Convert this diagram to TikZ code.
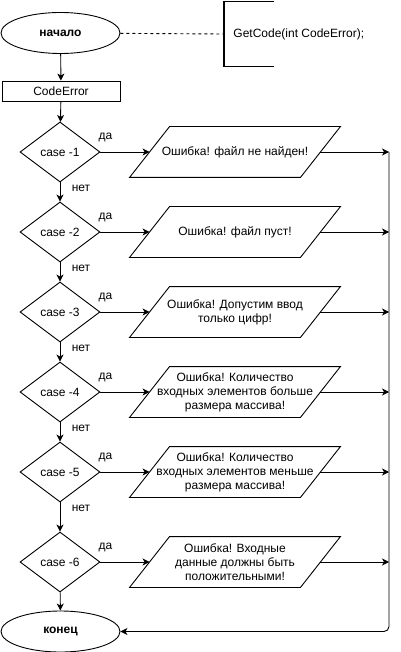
\documentclass[tikz,border=0pt]{standalone}
\usepackage{fontspec}
\setmainfont{Liberation Sans}
\usetikzlibrary{shapes.geometric,arrows.meta,positioning}

\begin{document}
\begin{tikzpicture}[x=1pt,y=-1pt,
		font=\fontsize{12pt}{14pt}\selectfont, line width=0.9pt,
		term/.style={ellipse, draw, minimum width=119pt, minimum height=41pt, inner sep=0pt,
					font=\fontsize{12pt}{14pt}\selectfont\bfseries},
		proc/.style={rectangle, draw, minimum width=118pt, minimum height=20pt, inner sep=0pt},
		cond/.style={diamond, draw, minimum width=80pt, minimum height=60pt, inner sep=0pt},
		io/.style={rectangle, minimum width=170pt, minimum height=50pt, inner sep=0pt, align=center},
		arr/.style={-{Stealth[length=7pt,width=7pt,inset=2pt]}}]
		\useasboundingbox (0,0) rectangle (400,652);

		% start and comment
		\node[term] (start) at (60.5,33) {начало};
		\node[anchor=west, minimum height=64pt, inner xsep=9pt, inner ysep=0pt] (note) at (224,34) {GetCode(int CodeError);};
		\draw[line width=1.6pt] ([xshift=50pt]note.north west) -- (note.north west) -- (note.south west) -- ([xshift=50pt]note.south west);
		\draw[dash pattern=on 3pt off 3pt] (start) -- (note.west);

		\node[proc] (code) at (61,91) {CodeError};
		\draw[arr] (start) -- (code);

		\coordinate (bus) at (389,152);

		% cases
		\foreach \i/\y/\txt in {1/152/{Ошибка! файл не найден!},
								2/232/{Ошибка! файл пуст!},
								3/312/{Ошибка! Допустим ввод\\только цифр!},
								4/392/{Ошибка! Количество\\входных элементов больше\\размера массива!},
								5/472/{Ошибка! Количество\\входных элементов меньше\\размера массива!},
								6/562/{Ошибка! Входные\\данные должны быть\\положительными!}}
		{
			\node[cond] (d\i) at (60,\y) {case -\i};
			\node[io] (p\i) at (235,\y) {\txt};
			\draw ([xshift=-20pt]p\i.south west) -- ([xshift=-20pt]p\i.south east)
				-- ([xshift=20pt]p\i.north east) -- ([xshift=20pt]p\i.north west) -- cycle;
			\draw[arr] (d\i) -- (p\i);
			\draw[arr] (p\i.east) -- (p\i.east -| bus);
			\path (d\i.east) ++(5,-15) node {да};
		}

		\draw[arr] (code) -- (d1);
		\foreach \i/\j in {1/2,2/3,3/4,4/5,5/6}
		{
			\draw[arr] (d\i) -- (d\j);
			\path (d\i.south) ++(21,6) node {нет};
		}

		% end
		\node[term] (end) at (60.5,631.5) {конец};
		\draw[arr] (d6) -- (end);
		\draw[arr, rounded corners=5pt] (bus) |- (end.east);
	\end{tikzpicture}
\end{document}
